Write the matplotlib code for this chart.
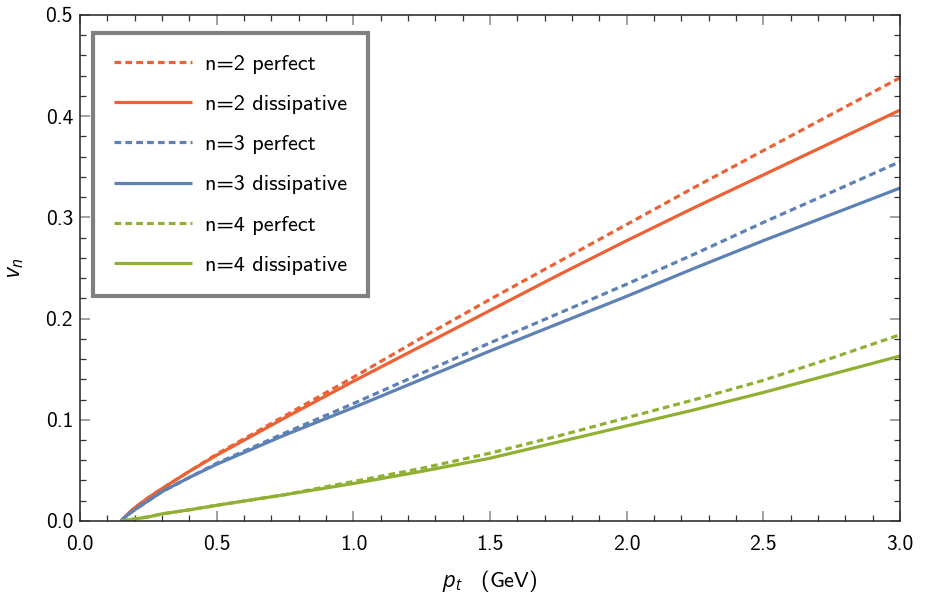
import numpy as np
import matplotlib
matplotlib.use('Agg')
from matplotlib import pyplot as plt
from matplotlib.ticker import MultipleLocator, FormatStrFormatter

plt.rcParams['font.family'] = ['cmss10', 'DejaVu Sans']
plt.rcParams['mathtext.fontset'] = 'custom'
plt.rcParams['mathtext.it'] = 'Open Sans:italic'
plt.rcParams['mathtext.rm'] = 'cmss10'
plt.rcParams['axes.unicode_minus'] = False

# transverse momentum grid (GeV)
pt = [0.15, 0.175, 0.2, 0.25, 0.3, 0.4, 0.5, 0.75, 1.0, 1.25, 1.5, 1.75, 2.0, 2.25, 2.5, 2.75, 3.0]

# flow coefficients
v2_perfect = [0.0, 0.007, 0.013, 0.023, 0.032, 0.049, 0.066, 0.104, 0.142, 0.181, 0.219, 0.256, 0.293, 0.330, 0.366, 0.402, 0.438]
v2_dissip = [0.0, 0.007, 0.013, 0.023, 0.032, 0.049, 0.065, 0.102, 0.138, 0.173, 0.208, 0.243, 0.277, 0.310, 0.342, 0.374, 0.406]
v3_perfect = [0.0, 0.006, 0.011, 0.020, 0.029, 0.043, 0.057, 0.087, 0.116, 0.146, 0.176, 0.205, 0.234, 0.264, 0.295, 0.325, 0.355]
v3_dissip = [0.0, 0.006, 0.011, 0.020, 0.029, 0.043, 0.056, 0.085, 0.112, 0.140, 0.168, 0.195, 0.222, 0.250, 0.277, 0.303, 0.329]
v4_perfect = [0.0, 0.001, 0.002, 0.004, 0.007, 0.011, 0.0155, 0.026, 0.039, 0.052, 0.067, 0.084, 0.102, 0.120, 0.139, 0.161, 0.184]
v4_dissip = [0.0, 0.001, 0.002, 0.004, 0.007, 0.011, 0.0155, 0.026, 0.037, 0.049, 0.062, 0.078, 0.094, 0.110, 0.127, 0.145, 0.163]

red = '#EB6235'
blue = '#5E81B5'
green = '#8FB032'

fig = plt.figure(figsize=(9.27, 6.02), dpi=100)
ax = fig.add_axes([0.0863, 0.1346, 0.8846, 0.8405])

lw = 2.3
dash = (2.1, 1.3)
series = [
    (v2_perfect, red, True, 'n=2 perfect'),
    (v2_dissip, red, False, 'n=2 dissipative'),
    (v3_perfect, blue, True, 'n=3 perfect'),
    (v3_dissip, blue, False, 'n=3 dissipative'),
    (v4_perfect, green, True, 'n=4 perfect'),
    (v4_dissip, green, False, 'n=4 dissipative'),
]
for vals, col, dashed, lab in series:
    line, = ax.plot(pt, vals, color=col, lw=lw, label=lab, solid_capstyle='butt')
    if dashed:
        line.set_dashes(dash)
        line.set_dash_capstyle('butt')

ax.set_xlim(0, 3)
ax.set_ylim(0, 0.5)
ax.xaxis.set_major_locator(MultipleLocator(0.5))
ax.xaxis.set_minor_locator(MultipleLocator(0.1))
ax.yaxis.set_major_locator(MultipleLocator(0.1))
ax.yaxis.set_minor_locator(MultipleLocator(0.02))
ax.xaxis.set_major_formatter(FormatStrFormatter('%.1f'))
ax.yaxis.set_major_formatter(FormatStrFormatter('%.1f'))
ax.tick_params(which='both', direction='in', top=True, right=True, labelsize=15.5)
ax.tick_params(which='major', length=7, width=1.1, color='#888888')
ax.tick_params(which='minor', length=4, width=0.9, color='#333333')
ax.tick_params(axis='x', which='major', pad=10)
ax.tick_params(axis='y', which='major', pad=5)
for s in ax.spines.values():
    s.set_linewidth(1.1)
    s.set_color('#222222')

ax.set_xlabel(r'$p_t\quad\mathrm{(GeV)}$', fontsize=16, labelpad=10)
ax.set_ylabel(r'$v_n$', fontsize=16, labelpad=14)

leg = ax.legend(loc='upper left', bbox_to_anchor=(0.0159, 0.9644), borderaxespad=0,
                fontsize=16, handlelength=3.5, handletextpad=0.6, labelspacing=0.93,
                borderpad=0.95, fancybox=False, framealpha=1)
leg.get_frame().set_edgecolor('#808080')
leg.get_frame().set_linewidth(3)

plt.savefig('out.png', dpi=100)
